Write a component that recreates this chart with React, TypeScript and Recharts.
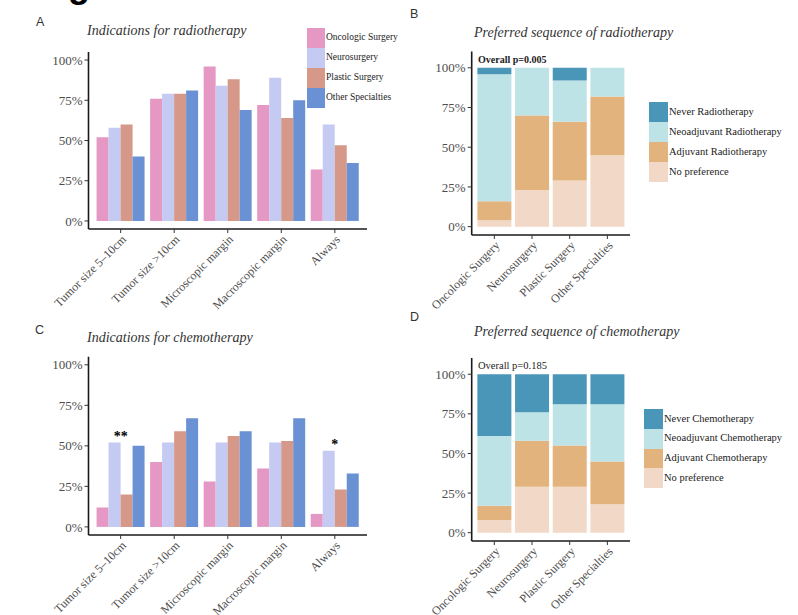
import React from 'react';
import { BarChart, Bar, XAxis, YAxis, ReferenceDot } from 'recharts';

const serif = '"Liberation Serif", "DejaVu Serif", serif';
const sans = '"Liberation Sans", Arial, sans-serif';

// indication panels (A, C)
const indications = ['Tumor size 5–10cm', 'Tumor size >10cm', 'Microscopic margin', 'Macroscopic margin', 'Always'];
const specialties = ['Oncologic Surgery', 'Neurosurgery', 'Plastic Surgery', 'Other Specialties'];
const specialtyKeys = ['oncologic', 'neuro', 'plastic', 'other'];
const specialtyColors = ['#E498C3', '#C4CAF2', '#D69888', '#6B91D5'];

const radioOncologic = [0.52, 0.76, 0.96, 0.72, 0.32];
const radioNeuro = [0.58, 0.79, 0.84, 0.89, 0.6];
const radioPlastic = [0.6, 0.79, 0.88, 0.64, 0.47];
const radioOther = [0.4, 0.81, 0.69, 0.75, 0.36];

const chemoOncologic = [0.12, 0.4, 0.28, 0.36, 0.08];
const chemoNeuro = [0.52, 0.52, 0.52, 0.52, 0.47];
const chemoPlastic = [0.2, 0.59, 0.56, 0.53, 0.23];
const chemoOther = [0.5, 0.67, 0.59, 0.67, 0.33];
const chemoSignificance = ['**', '', '', '', '*'];

// sequence panels (B, D), stacked bottom to top
const seqKeys = ['noPref', 'adjuvant', 'neoadjuvant', 'never'];
const seqColors = ['#F2D8C6', '#E2B37C', '#BEE3E6', '#4A96B8'];
const radioSeqLabels = ['No preference', 'Adjuvant Radiotherapy', 'Neoadjuvant Radiotherapy', 'Never Radiotherapy'];
const chemoSeqLabels = ['No preference', 'Adjuvant Chemotherapy', 'Neoadjuvant Chemotherapy', 'Never Chemotherapy'];

const radioNoPref = [0.04, 0.23, 0.29, 0.45];
const radioAdjuvant = [0.12, 0.47, 0.37, 0.37];
const radioNeoadjuvant = [0.8, 0.3, 0.26, 0.18];
const radioNever = [0.04, 0, 0.08, 0];

const chemoNoPref = [0.08, 0.29, 0.29, 0.18];
const chemoAdjuvant = [0.09, 0.29, 0.26, 0.27];
const chemoNeoadjuvant = [0.44, 0.18, 0.26, 0.36];
const chemoNever = [0.39, 0.24, 0.19, 0.19];

const pctTicks = [0, 0.25, 0.5, 0.75, 1];
const pct = (v: number) => `${Math.round(v * 100)}%`;

function AngledTick(props: any) {
  const { x, y, payload } = props;
  return (
    <text
      x={x}
      y={y}
      dy="0.72em"
      textAnchor="end"
      transform={`rotate(-45, ${x}, ${y})`}
      fontSize={12}
      fill="#4d4d4d"
      fontFamily={serif}
    >
      {payload.value}
    </text>
  );
}

const axisLine = { stroke: '#1a1a1a', strokeWidth: 1.6 };
const tickLine = { stroke: '#333' };
const yTick = { fontSize: 13, fill: '#4d4d4d', fontFamily: serif };

function IndicationPanel(props: {
  top: number;
  height: number;
  marginTop: number;
  plotBottom: number;
  values: number[][];
  stars?: string[];
}) {
  const { top, height, marginTop, plotBottom, values, stars } = props;
  const data = indications.map((name, i) => {
    const row: any = { name };
    specialtyKeys.forEach((k, s) => (row[k] = values[s][i]));
    return row;
  });
  return (
    <div style={{ position: 'absolute', left: 0, top }}>
      <BarChart
        width={400}
        height={height}
        data={data}
        margin={{ top: marginTop, right: 33, left: 0, bottom: 0 }}
        barCategoryGap="5%"
        barGap={0}
      >
        <XAxis
          dataKey="name"
          height={height - plotBottom}
          padding={{ left: 5.4, right: 5.4 }}
          axisLine={axisLine}
          tickLine={tickLine}
          tickSize={4}
          tickMargin={1}
          interval={0}
          tick={<AngledTick />}
        />
        <YAxis
          width={88.5}
          domain={[-0.05, 1.05]}
          ticks={pctTicks}
          allowDataOverflow
          tickFormatter={pct}
          axisLine={axisLine}
          tickLine={tickLine}
          tickSize={4}
          tickMargin={2}
          tick={yTick}
        />
        {specialtyKeys.map((k, s) => (
          <Bar key={k} dataKey={k} name={specialties[s]} fill={specialtyColors[s]} isAnimationActive={false} />
        ))}
        {stars &&
          stars.map((st, i) =>
            st ? (
              <ReferenceDot
                key={i}
                x={indications[i]}
                y={Math.max(...values.map((v) => v[i])) + 0.065}
                r={0}
                fill="none"
                stroke="none"
                label={{ value: st, position: 'center', fontSize: 14, fontWeight: 'bold', fill: '#000', fontFamily: serif, dy: 4 }}
              />
            ) : null
          )}
      </BarChart>
    </div>
  );
}

function SequencePanel(props: {
  top: number;
  height: number;
  marginTop: number;
  plotBottom: number;
  labels: string[];
  values: number[][];
}) {
  const { top, height, marginTop, plotBottom, labels, values } = props;
  const data = specialties.map((name, i) => {
    const row: any = { name };
    seqKeys.forEach((k, s) => (row[k] = values[s][i]));
    return row;
  });
  return (
    <div style={{ position: 'absolute', left: 400, top }}>
      <BarChart
        width={398}
        height={height}
        data={data}
        margin={{ top: marginTop, right: 168, left: 0, bottom: 0 }}
        barCategoryGap="5%"
      >
        <XAxis
          dataKey="name"
          height={height - plotBottom}
          padding={{ left: 3.8, right: 3.8 }}
          axisLine={axisLine}
          tickLine={tickLine}
          tickSize={4}
          tickMargin={1}
          interval={0}
          tick={<AngledTick />}
        />
        <YAxis
          width={71.7}
          domain={[-0.0525, 1.1025]}
          ticks={pctTicks}
          allowDataOverflow
          tickFormatter={pct}
          axisLine={axisLine}
          tickLine={tickLine}
          tickSize={4}
          tickMargin={2}
          tick={yTick}
        />
        {seqKeys.map((k, s) => (
          <Bar key={k} dataKey={k} name={labels[s]} stackId="seq" fill={seqColors[s]} isAnimationActive={false} />
        ))}
      </BarChart>
    </div>
  );
}

function KeyLegend(props: {
  left: number;
  top: number;
  labels: string[];
  colors: string[];
  fontSize: number;
  keyW: number;
  keyH: number;
}) {
  const { left, top, labels, colors, fontSize, keyW, keyH } = props;
  return (
    <div style={{ position: 'absolute', left, top }}>
      {labels.map((label, i) => (
        <div key={label} style={{ display: 'flex', alignItems: 'center', height: keyH }}>
          <div style={{ width: keyW, height: keyH, background: colors[i] }} />
          <span
            style={{ fontSize, fontFamily: serif, color: '#222', marginLeft: 1, whiteSpace: 'nowrap', lineHeight: 1 }}
          >
            {label}
          </span>
        </div>
      ))}
    </div>
  );
}

export default function App() {
  const rev = <T,>(a: T[]) => [...a].reverse();
  return (
    <div style={{ position: 'absolute', left: 0, top: 0, width: 798, height: 615, background: '#fff', overflow: 'hidden' }}>
      <IndicationPanel
        top={0}
        height={330}
        marginTop={52}
        plotBottom={229}
        values={[radioOncologic, radioNeuro, radioPlastic, radioOther]}
      />
      <IndicationPanel
        top={305}
        height={320}
        marginTop={51.7}
        plotBottom={230}
        values={[chemoOncologic, chemoNeuro, chemoPlastic, chemoOther]}
        stars={chemoSignificance}
      />
      <SequencePanel
        top={0}
        height={330}
        marginTop={51.5}
        plotBottom={235}
        labels={radioSeqLabels}
        values={[radioNoPref, radioAdjuvant, radioNeoadjuvant, radioNever]}
      />
      <SequencePanel
        top={305}
        height={320}
        marginTop={53}
        plotBottom={236}
        labels={chemoSeqLabels}
        values={[chemoNoPref, chemoAdjuvant, chemoNeoadjuvant, chemoNever]}
      />

      <KeyLegend left={307} top={28} labels={specialties} colors={specialtyColors} fontSize={9.5} keyW={18} keyH={20} />
      <KeyLegend left={649} top={102} labels={rev(radioSeqLabels)} colors={rev(seqColors)} fontSize={10.5} keyW={19} keyH={20} />
      <KeyLegend left={644} top={409} labels={rev(chemoSeqLabels)} colors={rev(seqColors)} fontSize={10.5} keyW={19} keyH={19.8} />

      <svg width={798} height={615} style={{ position: 'absolute', left: 0, top: 0, pointerEvents: 'none' }}>
        <text x={68} y={-3} fontSize={36} fontWeight="bold" fontFamily={sans} fill="#000">g</text>

        <g fontFamily={sans} fontSize={12.5} fill="#333" dominantBaseline="central">
          <text x={36} y={22}>A</text>
          <text x={410} y={14}>B</text>
          <text x={35} y={330}>C</text>
          <text x={410} y={317}>D</text>
        </g>

        <g fontFamily={serif} fontSize={14} fontStyle="italic" fill="#333" dominantBaseline="central">
          <text x={87} y={30}>Indications for radiotherapy</text>
          <text x={474} y={32}>Preferred sequence of radiotherapy</text>
          <text x={87} y={337}>Indications for chemotherapy</text>
          <text x={474} y={331}>Preferred sequence of chemotherapy</text>
        </g>

        <text x={478} y={59} fontFamily={serif} fontSize={10} fontWeight="bold" fill="#222" dominantBaseline="central">
          Overall p=0.005
        </text>
        <text x={478} y={365} fontFamily={serif} fontSize={10.5} fill="#222" dominantBaseline="central">
          Overall p=0.185
        </text>
      </svg>
    </div>
  );
}
